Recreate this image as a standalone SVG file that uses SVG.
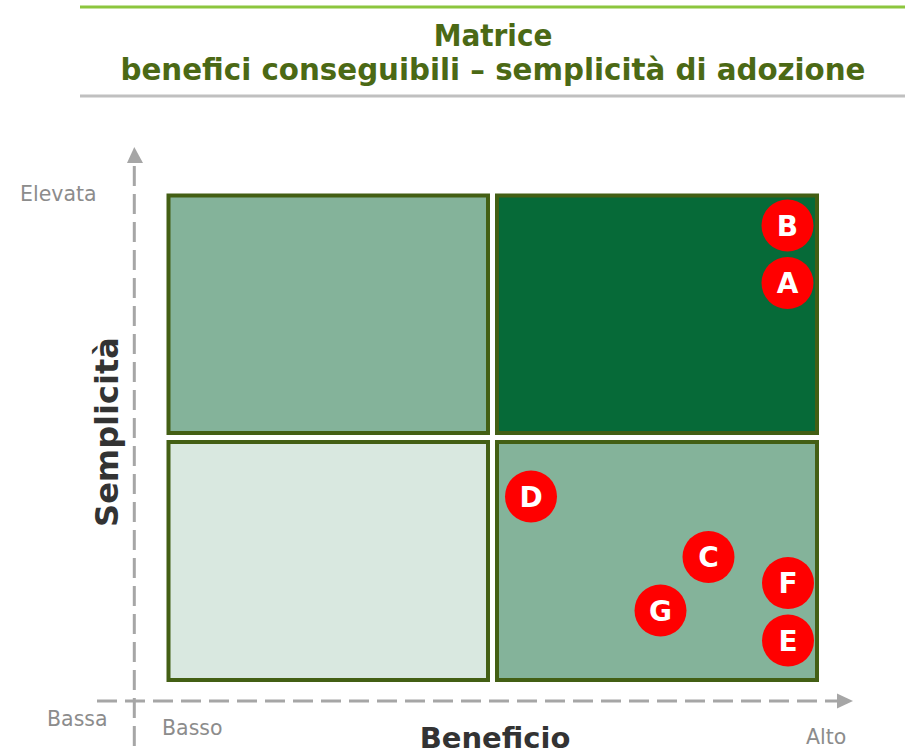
<svg xmlns="http://www.w3.org/2000/svg" width="915" height="750" viewBox="0 0 915 750">
<style>
.title{font-family:"DejaVu Sans Condensed","DejaVu Sans",sans-serif;font-weight:bold;font-size:31px;fill:#4b6915;text-anchor:middle}
.lbl{font-family:"DejaVu Sans",sans-serif;font-size:20.5px;fill:#8c8c8c}
.axt{font-family:"DejaVu Sans",sans-serif;font-weight:bold;fill:#333333;text-anchor:middle}
.q{stroke:#435f14;stroke-width:4}
.dot{fill:#ff0000}
.let{font-family:"DejaVu Sans",sans-serif;font-weight:bold;font-size:28px;fill:#ffffff;text-anchor:middle}
.ax{stroke:#a6a6a6;stroke-width:3;stroke-dasharray:20 8;fill:none}
</style>
<g id="header">
<line x1="80" y1="7" x2="905" y2="7" stroke="#8cc63e" stroke-width="3"/>
<line x1="80" y1="96" x2="905" y2="96" stroke="#c0c0c0" stroke-width="3"/>
<text class="title" x="493" y="46">Matrice</text>
<text class="title" x="493" y="80" textLength="745" lengthAdjust="spacingAndGlyphs">benefici conseguibili – semplicità di adozione</text>
</g>
<g id="connectors">
<line class="ax" x1="134.3" y1="166" x2="134.3" y2="750"/>
<path d="M127,163 L134.3,147 L143,163 Z" fill="#a6a6a6"/>
<line class="ax" x1="97" y1="701" x2="838" y2="701"/>
<path d="M837,693.5 L853,701 L837,708.5 Z" fill="#a6a6a6"/>
</g>
<g id="q-top-left"><rect class="q" x="168.5" y="195.5" width="319.5" height="237.5" fill="#84b39a"/></g>
<g id="q-top-right"><rect class="q" x="497" y="195.5" width="320" height="237.5" fill="#066a38"/></g>
<g id="q-bottom-left"><rect class="q" x="168.5" y="442" width="319.5" height="238" fill="#d9e8e0"/></g>
<g id="q-bottom-right"><rect class="q" x="497" y="442" width="320" height="238" fill="#84b39a"/></g>
<g id="node-B"><circle class="dot" cx="787.5" cy="225.5" r="26"/><text class="let" x="787.5" y="235.5">B</text></g>
<g id="node-A"><circle class="dot" cx="787.5" cy="283" r="26"/><text class="let" x="787.5" y="293">A</text></g>
<g id="node-D"><circle class="dot" cx="531" cy="496.5" r="26"/><text class="let" x="531" y="506.5">D</text></g>
<g id="node-C"><circle class="dot" cx="708.5" cy="557" r="26"/><text class="let" x="708.5" y="567">C</text></g>
<g id="node-F"><circle class="dot" cx="788" cy="583" r="26"/><text class="let" x="788" y="593">F</text></g>
<g id="node-G"><circle class="dot" cx="660.5" cy="610.5" r="26"/><text class="let" x="660.5" y="620.5">G</text></g>
<g id="node-E"><circle class="dot" cx="788" cy="640.5" r="26"/><text class="let" x="788" y="650.5">E</text></g>
<g id="labels">
<text class="lbl" x="20" y="201">Elevata</text>
<text class="lbl" x="47" y="726">Bassa</text>
<text class="lbl" x="162" y="735">Basso</text>
<text class="lbl" x="806" y="744">Alto</text>
<text class="axt" x="495" y="748" font-size="29">Beneficio</text>
<text class="axt" transform="translate(118,432) rotate(-90)" x="0" y="0" font-size="32">Semplicità</text>
</g>
</svg>
